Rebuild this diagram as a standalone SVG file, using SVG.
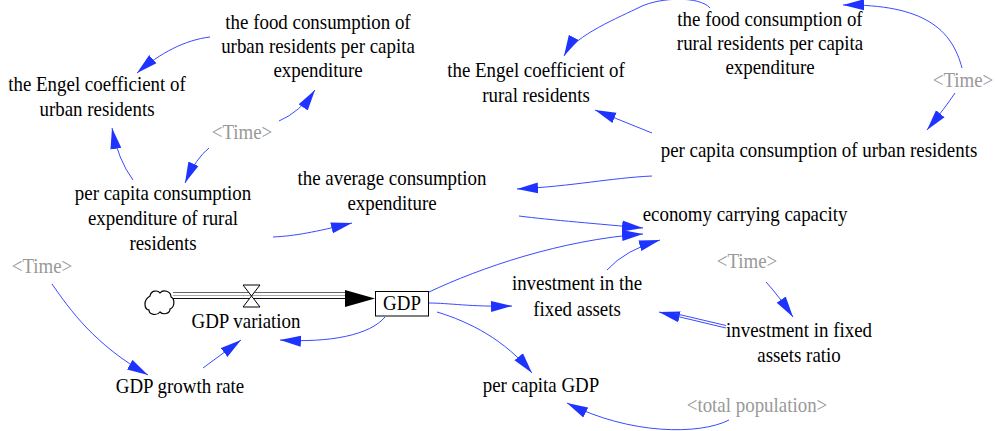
<svg xmlns="http://www.w3.org/2000/svg" width="995" height="431" viewBox="0 0 995 431">
<style>
.t{font-family:"Liberation Serif","Times New Roman",serif;font-size:22px;fill:#000;text-anchor:middle}
.g{fill:#999}
.c{fill:none;stroke:#3a4aff;stroke-width:1;marker-end:url(#ah)}
.p{stroke-width:1;fill:none}
</style>
<defs>
<marker id="ah" markerUnits="userSpaceOnUse" markerWidth="22" markerHeight="12" refX="21" refY="5.5" orient="auto" viewBox="0 0 22 11">
<path d="M0,0 L21,5.5 L0,11 z" fill="#1f33ff"/>
</marker>
</defs>
<rect width="995" height="431" fill="#fff"/>

<g id="connectors">
<path class="c" d="M210 37 C185 40 160 53 137 73"/>
<path class="c" d="M279 121 Q300 112 315 90"/>
<path class="c" d="M209 148 Q196 158 185 183"/>
<path class="c" d="M133 180 Q118 160 112 128"/>
<path class="c" d="M273 237 C295 236 315 232 352 223"/>
<path class="c" d="M652 133 L595 110"/>
<path class="c" d="M652 176 C610 178 575 186 517 189"/>
<path class="c" d="M519 216 C550 220 600 224 643 228"/>
<path class="c" d="M429 292 C480 268 560 240 643 234"/>
<path class="c" d="M607 270 Q625 250 660 240"/>
<path class="c" d="M766 282 Q778 295 793 317"/>
<path class="c" d="M726 328 L659 312"/>
<path fill="none" stroke="#3a4aff" d="M726 325.5 L675 313.5"/>
<path class="c" d="M428 303 C450 303 470 307 512 306"/>
<path class="c" d="M437 312 C470 322 505 340 532 373"/>
<path class="c" d="M729 420 C700 435 630 435 567 403"/>
<path class="c" d="M385 317 C370 335 330 343 280 340"/>
<path class="c" d="M203 368 L241 340"/>
<path class="c" d="M52 284 C70 310 95 345 148 375"/>
<path class="c" d="M710 8 C700 -4 660 -3 640 7 S575 35 564 56"/>
<path class="c" d="M962 68 C952 30 925 4 843 5"/>
<path class="c" d="M955 93 Q945 108 927 130"/>
</g>

<g id="flow-gdp-variation">
<path d="M150 296 C151 290 158 290 160 293 C163 289 171 291 171 297 C175 299 175 307 170 309 C170 314 163 315 160 312 C157 316 149 315 149 310 C144 309 143 300 150 296 Z" fill="#fff" stroke="#000" stroke-width="1.2"/>
<line class="p" x1="173" y1="292.5" x2="346" y2="292.5" stroke="#666"/>
<line class="p" x1="173" y1="295.5" x2="346" y2="295.5" stroke="#aaa"/>
<line class="p" x1="173" y1="298.5" x2="346" y2="298.5" stroke="#111"/>
<path d="M345 290 L375 298.5 L345 307 Z" fill="#000"/>
<path d="M243 285 L260 285 L243 307 L260 307 Z" fill="#fff" stroke="#000" stroke-width="1"/>
<text class="t" transform="translate(246,328) scale(0.86,1)">GDP variation</text>
</g>

<g id="gdp">
<rect x="375.5" y="291.5" width="53" height="24.5" fill="#fff" stroke="#000" stroke-width="1"/>
<text class="t" transform="translate(402,310) scale(0.86,1)">GDP</text>
</g>

<g id="food-urban"><text class="t" transform="translate(318,28.5) scale(0.86,1)"><tspan x="0" y="0">the food consumption of</tspan><tspan x="0" y="24.5">urban residents per capita</tspan><tspan x="0" y="49">expenditure</tspan></text></g>
<g id="engel-urban"><text class="t" transform="translate(97,91) scale(0.86,1)"><tspan x="0" y="0">the Engel coefficient of</tspan><tspan x="0" y="25">urban residents</tspan></text></g>
<g id="time1"><text class="t g" transform="translate(242,139) scale(0.86,1)">&lt;Time&gt;</text></g>
<g id="pc-rural"><text class="t" transform="translate(163,200) scale(0.86,1)"><tspan x="0" y="0">per capita consumption</tspan><tspan x="0" y="25">expenditure of rural</tspan><tspan x="0" y="50">residents</tspan></text></g>
<g id="average"><text class="t" transform="translate(392,185) scale(0.86,1)"><tspan x="0" y="0">the average consumption</tspan><tspan x="0" y="25">expenditure</tspan></text></g>
<g id="engel-rural"><text class="t" transform="translate(536,77) scale(0.86,1)"><tspan x="0" y="0">the Engel coefficient of</tspan><tspan x="0" y="25">rural residents</tspan></text></g>
<g id="food-rural"><text class="t" transform="translate(770,26) scale(0.86,1)"><tspan x="0" y="0">the food consumption of</tspan><tspan x="0" y="24">rural residents per capita</tspan><tspan x="0" y="48">expenditure</tspan></text></g>
<g id="time2"><text class="t g" transform="translate(963,87) scale(0.86,1)">&lt;Time&gt;</text></g>
<g id="pc-urban"><text class="t" transform="translate(819,157) scale(0.86,1)">per capita consumption of urban residents</text></g>
<g id="economy"><text class="t" transform="translate(745,221) scale(0.86,1)">economy carrying capacity</text></g>
<g id="time3"><text class="t g" transform="translate(747,268) scale(0.86,1)">&lt;Time&gt;</text></g>
<g id="investment"><text class="t" transform="translate(577,290) scale(0.86,1)"><tspan x="0" y="0">investment in the</tspan><tspan x="0" y="26">fixed assets</tspan></text></g>
<g id="investment-ratio"><text class="t" transform="translate(799,337) scale(0.86,1)"><tspan x="0" y="0">investment in fixed</tspan><tspan x="0" y="25">assets ratio</tspan></text></g>
<g id="gdp-growth"><text class="t" transform="translate(180,393) scale(0.86,1)">GDP growth rate</text></g>
<g id="pc-gdp"><text class="t" transform="translate(541,392) scale(0.86,1)">per capita GDP</text></g>
<g id="total-pop"><text class="t g" transform="translate(757,412) scale(0.86,1)">&lt;total population&gt;</text></g>
<g id="time4"><text class="t g" transform="translate(42,273) scale(0.86,1)">&lt;Time&gt;</text></g>
</svg>
